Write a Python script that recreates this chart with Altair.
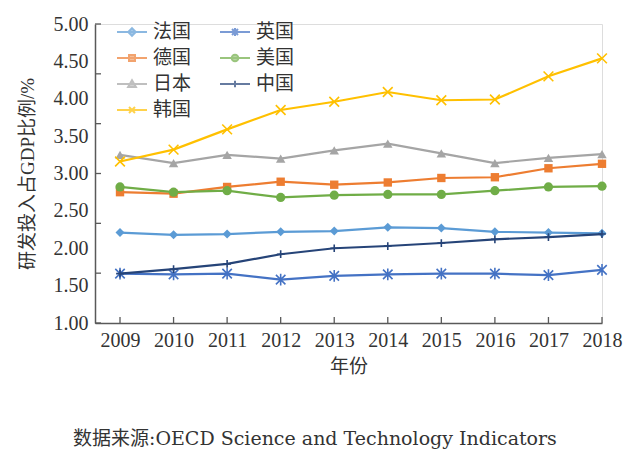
import altair as alt
import pandas as pd

# ---------------- data ----------------
years = [2009, 2010, 2011, 2012, 2013, 2014, 2015, 2016, 2017, 2018]
# legend order (filled column by column): 法国 德国 日本 韩国 | 英国 美国 中国
countries = ["法国", "德国", "日本", "韩国", "英国", "美国", "中国"]

france = [2.21, 2.18, 2.19, 2.22, 2.23, 2.28, 2.27, 2.22, 2.21, 2.20]
germany = [2.75, 2.73, 2.82, 2.89, 2.85, 2.88, 2.94, 2.95, 3.07, 3.13]
japan = [3.25, 3.14, 3.25, 3.20, 3.31, 3.40, 3.27, 3.14, 3.21, 3.26]
korea = [3.16, 3.32, 3.59, 3.85, 3.96, 4.09, 3.98, 3.99, 4.30, 4.54]
uk = [1.66, 1.65, 1.66, 1.58, 1.63, 1.65, 1.66, 1.66, 1.64, 1.71]
usa = [2.82, 2.75, 2.77, 2.68, 2.71, 2.72, 2.72, 2.77, 2.82, 2.83]
china = [1.66, 1.72, 1.79, 1.92, 2.00, 2.03, 2.07, 2.12, 2.15, 2.19]

colors = ["#5B9BD5", "#ED7D31", "#A5A5A5", "#FFC000", "#4472C4", "#70AD47", "#264478"]
y_labels = [1.0, 1.5, 2.0, 2.5, 3.0, 3.5, 4.0, 4.5, 5.0]
y_tick_marks = [1.0, 1.6667, 2.3333, 3.0, 3.6667, 4.3333, 5.0]

series = {"法国": france, "德国": germany, "日本": japan, "韩国": korea,
          "英国": uk, "美国": usa, "中国": china}
rows = [{"year": yr, "country": c, "value": v}
        for c in countries for yr, v in zip(years, series[c])]
df = pd.DataFrame(rows)
color_of = dict(zip(countries, colors))

# ---------------- style ----------------
W, H = 507, 299
NUM_FONT = "Liberation Serif, Noto Sans CJK SC"
AXIS_COLOR = "#595959"
TEXT_COLOR = "#333333"

# marker per country: (shape, filled, size)
markers = {
    "法国": ("diamond", True, 81),
    "德国": ("square", True, 70),
    "日本": ("triangle-up", True, 90),
    "韩国": ("M-1,-1L1,1M-1,1L1,-1", False, 95),
    "英国": ("M-1,-1L1,1M-1,1L1,-1M0,-1.25L0,1.25", False, 90),
    "美国": ("circle", True, 85),
    "中国": ("M0,-1L0,1M-1,0L1,0", False, 60),
}
draw_order = ["法国", "德国", "日本", "韩国", "英国", "美国", "中国"]

legend_paths = [
    "M-1,0L1,0M0,-0.25L0.25,0L0,0.25L-0.25,0Z",
    "M-1,0L1,0M-0.2,-0.2L0.2,-0.2L0.2,0.2L-0.2,0.2Z",
    "M-1,0L1,0M0,-0.25L0.26,0.2L-0.26,0.2Z",
    "M-1,0L1,0M-0.2,-0.2L0.2,0.2M-0.2,0.2L0.2,-0.2",
    "M-1,0L1,0M-0.2,-0.2L0.2,0.2M-0.2,0.2L0.2,-0.2M0,-0.26L0,0.26",
    "M-1,0L1,0M-0.22,0A0.22,0.22 0 1,0 0.22,0A0.22,0.22 0 1,0 -0.22,0Z",
    "M-1,0L1,0M0,-0.22L0,0.22",
]

x_scale = alt.Scale(domain=[2008.533, 2018], nice=False, zero=False)
y_scale = alt.Scale(domain=[1, 5], nice=False, zero=False)

x_axis = alt.Axis(
    values=years, format="d", grid=False, ticks=False, labelOverlap=False,
    labelFlush=False,
    domainColor=AXIS_COLOR, domainWidth=1.5,
    labelFont=NUM_FONT, labelFontSize=20, labelColor=TEXT_COLOR, labelPadding=7,
    title="年份", titleFont=NUM_FONT, titleFontSize=19, titleFontWeight="normal",
    titleColor=TEXT_COLOR, titlePadding=7)
y_axis = alt.Axis(
    values=y_labels, format=".2f", grid=False, ticks=False, labelOverlap=False,
    labelFlush=False,
    domainColor=AXIS_COLOR, domainWidth=1.5,
    labelFont=NUM_FONT, labelFontSize=20, labelColor=TEXT_COLOR, labelPadding=7,
    title="研发投入占GDP比例/%", titleFont=NUM_FONT, titleFontSize=19,
    titleFontWeight="normal", titleColor=TEXT_COLOR, titlePadding=16)


def xe():
    return alt.X("year:Q", scale=x_scale, axis=x_axis)


def ye():
    return alt.Y("value:Q", scale=y_scale, axis=y_axis)


base = alt.Chart(df)

leg = alt.Legend(
    orient="none", legendX=21, legendY=-8, columns=2, columnPadding=24,
    rowPadding=-3, labelFont=NUM_FONT, labelFontSize=19, labelColor=TEXT_COLOR,
    symbolSize=900, symbolStrokeWidth=2, labelOffset=5, padding=0,
)
legend_layer = base.transform_filter("datum.year < 0").mark_point(
    filled=False, strokeWidth=2).encode(
    x=xe(), y=ye(),
    color=alt.Color("country:N", scale=alt.Scale(domain=countries, range=colors),
                    title=None, legend=leg),
    fill=alt.Fill("country:N", scale=alt.Scale(domain=countries, range=colors),
                  title=None, legend=leg),
    shape=alt.Shape("country:N", scale=alt.Scale(domain=countries, range=legend_paths),
                    title=None, legend=leg),
)

layers = [legend_layer]
for c in draw_order:
    col = color_of[c]
    sub = base.transform_filter(alt.datum.country == c)
    layers.append(sub.mark_line(color=col, strokeWidth=2.2).encode(x=xe(), y=ye()))
    shp, filled, sz = markers[c]
    if filled:
        pm = sub.mark_point(shape=shp, filled=True, size=sz, color=col, opacity=1)
    else:
        pm = sub.mark_point(shape=shp, filled=False, size=sz, color=col,
                            strokeWidth=1.6, opacity=1)
    layers.append(pm.encode(x=xe(), y=ye()))

x_ticks = alt.Chart(pd.DataFrame({"year": years})).mark_rule(
    color=AXIS_COLOR, strokeWidth=1.3).encode(
    x=xe(), y=alt.value(H - 6), y2=alt.value(H))
y_ticks = alt.Chart(pd.DataFrame({"value": y_tick_marks})).mark_rule(
    color=AXIS_COLOR, strokeWidth=1.3).encode(
    y=ye(), x=alt.value(0), x2=alt.value(6))
layers += [x_ticks, y_ticks]

chart = alt.layer(*layers).properties(
    width=W, height=H,
    padding={"left": 87, "top": 16, "right": 26, "bottom": 140},
    autosize=alt.AutoSizeParams(type="none"),
    title=alt.TitleParams(
        "数据来源:OECD Science and Technology Indicators",
        orient="bottom", anchor="start", frame="group", dx=-22, offset=54,
        font="DejaVu Serif, Noto Sans CJK SC", fontSize=19,
        fontWeight="normal", color=TEXT_COLOR),
).configure_view(stroke=None).configure(background="white")

chart.save("out.html", embed_options={"renderer": "svg", "actions": False})
